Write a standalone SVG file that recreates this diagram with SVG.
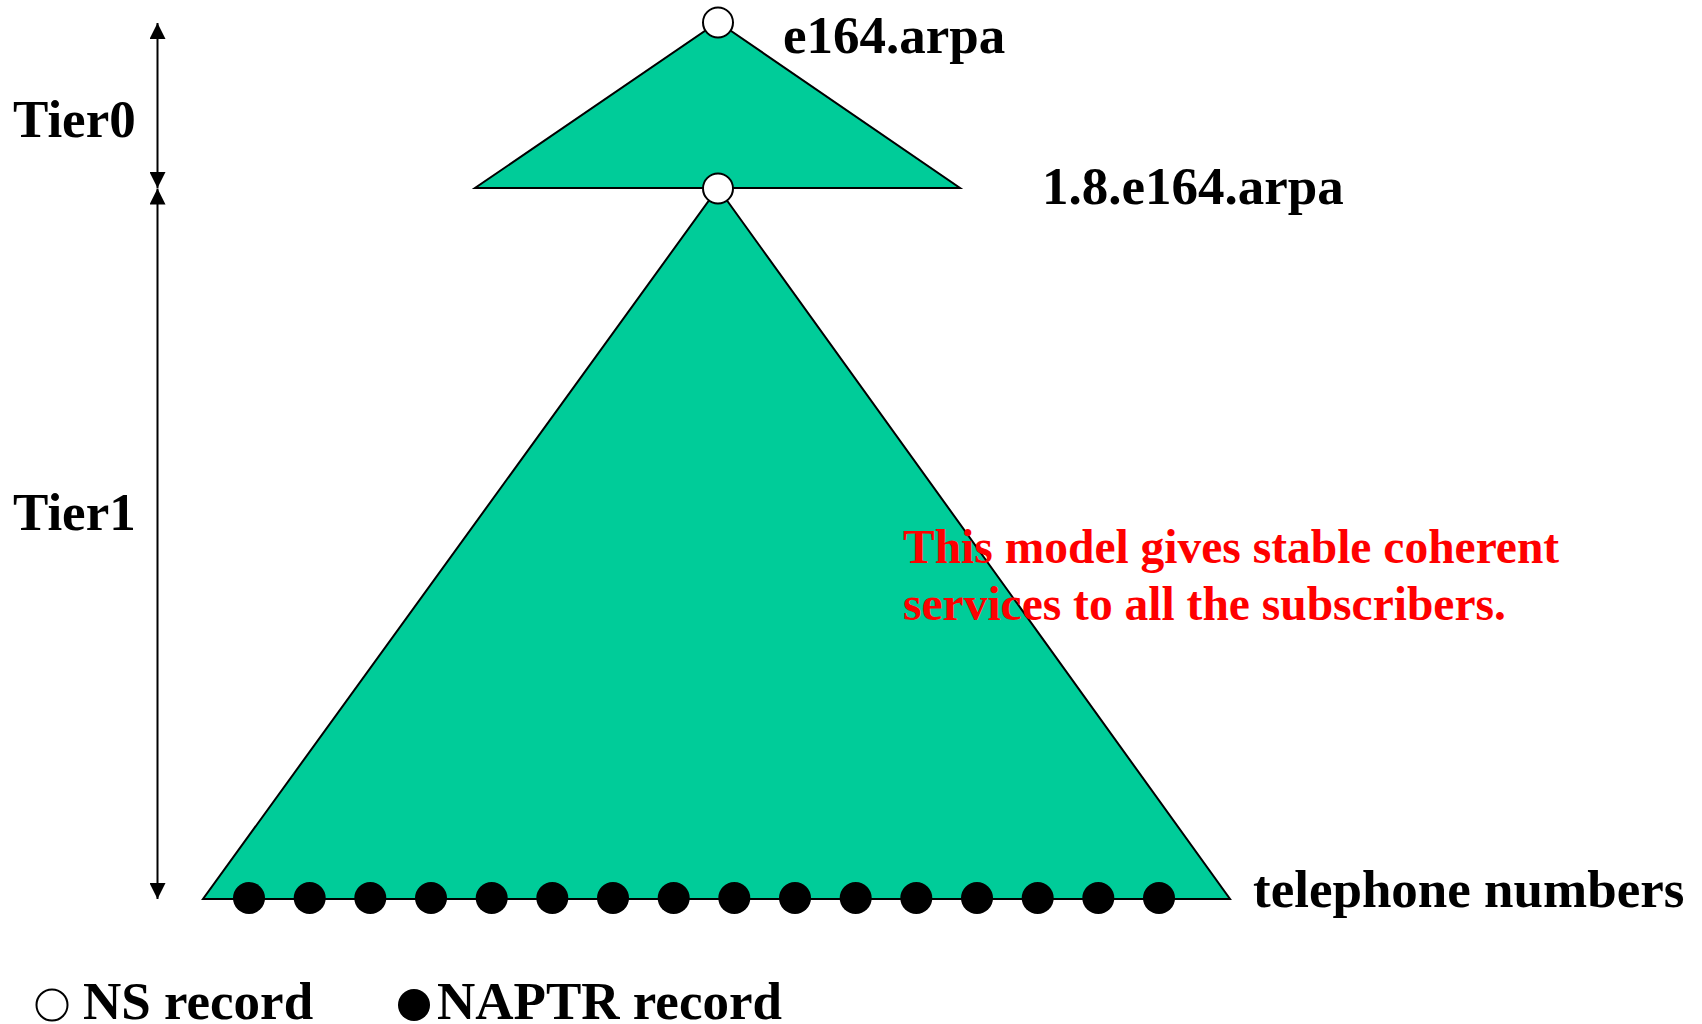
<svg xmlns="http://www.w3.org/2000/svg" width="1702" height="1024" viewBox="0 0 1702 1024">
  <style>
    .zone { fill: #00CC99; stroke: #000; stroke-width: 2; stroke-linejoin: miter; }
    .ns { fill: #fff; stroke: #000; stroke-width: 2; }
    .naptr { fill: #000; }
    .lbl { font-family: "Liberation Serif", "Times New Roman", serif; font-weight: bold; font-size: 53px; fill: #000; }
    .note { font-family: "Liberation Serif", "Times New Roman", serif; font-weight: bold; font-size: 47.5px; fill: #ff0000; }
    .dim { stroke: #000; stroke-width: 2; fill: none; }
  </style>
  <defs>
    <marker id="head" viewBox="0 0 16 16" refX="16" refY="8" markerWidth="16" markerHeight="16" markerUnits="userSpaceOnUse" orient="auto-start-reverse">
      <path d="M0,0 L16,8 L0,16 Z" fill="#000"/>
    </marker>
  </defs>

  <rect width="1702" height="1024" fill="#fff"/>

  <!-- tier extent arrows -->
  <g id="connectors">
    <line class="dim" x1="157.5" y1="23" x2="157.5" y2="188" marker-start="url(#head)" marker-end="url(#head)"/>
    <line class="dim" x1="157.5" y1="188.5" x2="157.5" y2="899" marker-start="url(#head)" marker-end="url(#head)"/>
  </g>

  <!-- tier 1: country zone below 1.8.e164.arpa -->
  <g id="tier1-zone">
    <polygon class="zone" points="718,188 1230,899 203,899"/>
  </g>

  <!-- tier 0: e164.arpa zone -->
  <g id="tier0-zone">
    <polygon class="zone" points="718,22 960,188 475,188"/>
  </g>

  <!-- name servers -->
  <g id="ns-e164">
    <circle class="ns" cx="718" cy="22.5" r="15"/>
    <text class="lbl" x="783" y="53">e164.arpa</text>
  </g>
  <g id="ns-1-8">
    <circle class="ns" cx="718" cy="188.5" r="15"/>
    <text class="lbl" x="1042" y="204">1.8.e164.arpa</text>
  </g>

  <!-- NAPTR records for telephone numbers -->
  <g id="numbers">
    <circle class="naptr" cx="249" cy="898" r="16"/>
    <circle class="naptr" cx="309.7" cy="898" r="16"/>
    <circle class="naptr" cx="370.3" cy="898" r="16"/>
    <circle class="naptr" cx="431" cy="898" r="16"/>
    <circle class="naptr" cx="491.7" cy="898" r="16"/>
    <circle class="naptr" cx="552.3" cy="898" r="16"/>
    <circle class="naptr" cx="613" cy="898" r="16"/>
    <circle class="naptr" cx="673.7" cy="898" r="16"/>
    <circle class="naptr" cx="734.3" cy="898" r="16"/>
    <circle class="naptr" cx="795" cy="898" r="16"/>
    <circle class="naptr" cx="855.7" cy="898" r="16"/>
    <circle class="naptr" cx="916.3" cy="898" r="16"/>
    <circle class="naptr" cx="977" cy="898" r="16"/>
    <circle class="naptr" cx="1037.7" cy="898" r="16"/>
    <circle class="naptr" cx="1098.3" cy="898" r="16"/>
    <circle class="naptr" cx="1159" cy="898" r="16"/>
    <text class="lbl" x="1253" y="907">telephone numbers</text>
  </g>

  <!-- tier labels -->
  <g id="tier-labels">
    <text class="lbl" x="13" y="137">Tier0</text>
    <text class="lbl" x="13" y="530">Tier1</text>
  </g>

  <!-- remark -->
  <g id="remark">
    <text class="note" x="903" y="563">This model gives stable coherent</text>
    <text class="note" x="903" y="620">services to all the subscribers.</text>
  </g>

  <!-- legend -->
  <g id="legend">
    <circle cx="52" cy="1005" r="15.5" fill="#fff" stroke="#000" stroke-width="2"/>
    <text class="lbl" x="83" y="1019">NS record</text>
    <circle cx="414" cy="1005" r="16" fill="#000"/>
    <text class="lbl" x="437" y="1019">NAPTR record</text>
  </g>
</svg>
